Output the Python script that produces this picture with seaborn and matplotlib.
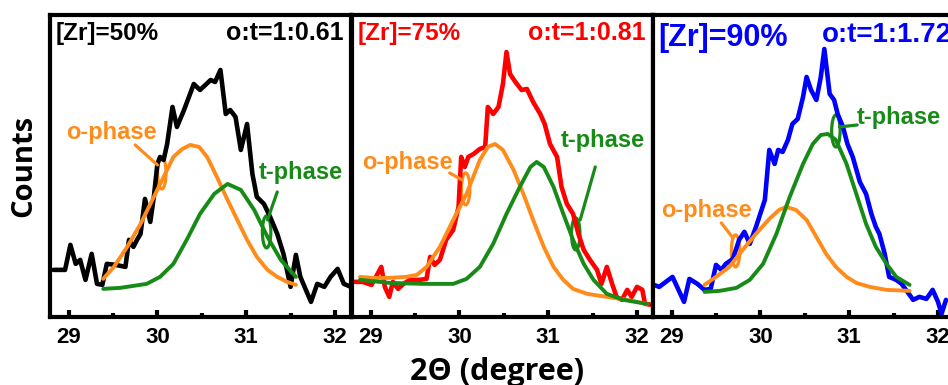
"""XRD peak deconvolution panels: o-phase / t-phase fits for three Zr contents."""
import matplotlib
matplotlib.use("Agg")
import matplotlib.pyplot as plt
from matplotlib.patches import Ellipse
import seaborn as sns

# ---- [Zr]=50% ----
theta_50 = [28.83, 28.96, 29.02, 29.08, 29.13, 29.19, 29.26, 29.32, 29.38, 29.43,
            29.53, 29.64, 29.68, 29.73, 29.77, 29.81, 29.86, 29.92, 29.96, 30.00,
            30.03, 30.07, 30.11, 30.17, 30.22, 30.30, 30.41, 30.48, 30.60, 30.65,
            30.71, 30.77, 30.82, 30.88, 30.94, 31.01, 31.07, 31.12, 31.20, 31.27,
            31.35, 31.42, 31.50, 31.56, 31.61, 31.73, 31.80, 31.88, 31.95, 32.03,
            32.10, 32.18]
counts_50 = [47, 47, 72, 53, 57, 37, 63, 33, 32, 53,
             52, 50, 77, 70, 77, 83, 118, 95, 120, 153,
             160, 157, 173, 210, 190, 207, 233, 227, 237, 235,
             247, 203, 207, 200, 167, 193, 143, 120, 113, 100,
             83, 63, 30, 62, 40, 15, 33, 30, 40, 48,
             33, 30]
theta_o_50 = [29.39, 29.51, 29.66, 29.81, 29.96, 30.07, 30.18, 30.28, 30.37, 30.47,
              30.56, 30.67, 30.79, 30.90, 31.01, 31.12, 31.24, 31.35, 31.46, 31.56]
counts_o_50 = [38, 50, 70, 93, 120, 140, 160, 168, 172, 170,
               160, 140, 117, 97, 77, 60, 47, 40, 35, 32]
theta_t_50 = [29.39, 29.58, 29.73, 29.88, 30.03, 30.18, 30.33, 30.48, 30.64, 30.79,
              30.94, 31.09, 31.24, 31.39, 31.56]
counts_t_50 = [28, 29, 31, 33, 40, 53, 77, 103, 123, 133,
               127, 107, 80, 57, 40]

# ---- [Zr]=75% ----
theta_75 = [28.82, 28.91, 29.01, 29.06, 29.12, 29.16, 29.21, 29.25, 29.31, 29.37,
            29.44, 29.50, 29.55, 29.63, 29.67, 29.72, 29.78, 29.85, 29.93, 29.99,
            30.02, 30.06, 30.10, 30.16, 30.23, 30.29, 30.32, 30.38, 30.44, 30.49,
            30.53, 30.57, 30.63, 30.70, 30.76, 30.83, 30.91, 30.96, 31.02, 31.10,
            31.15, 31.21, 31.28, 31.34, 31.40, 31.47, 31.55, 31.60, 31.66, 31.72,
            31.77, 31.83, 31.89, 31.94, 32.00, 32.06, 32.09, 32.17]
counts_75 = [35, 35, 32, 40, 50, 30, 20, 35, 28, 33,
             37, 37, 37, 38, 60, 52, 57, 77, 87, 110,
             160, 150, 160, 163, 168, 170, 210, 203, 210, 233,
             265, 243, 235, 227, 228, 215, 203, 193, 173, 160,
             130, 113, 103, 83, 67, 57, 47, 33, 50, 33,
             20, 17, 27, 20, 30, 27, 13, 12]
theta_o_75 = [28.88, 29.03, 29.21, 29.40, 29.52, 29.63, 29.78, 29.93, 30.08, 30.23,
              30.32, 30.40, 30.49, 30.61, 30.72, 30.83, 30.95, 31.06, 31.17, 31.28,
              31.44, 31.66, 31.89, 32.11]
counts_o_75 = [40, 39, 39, 40, 42, 50, 70, 97, 123, 157,
               170, 173, 167, 147, 123, 97, 70, 50, 37, 28,
               23, 20, 17, 13]
theta_t_75 = [28.88, 29.21, 29.59, 29.93, 30.08, 30.23, 30.38, 30.53, 30.68, 30.80,
              30.87, 30.95, 31.06, 31.17, 31.28, 31.40, 31.51, 31.66, 31.85, 32.11]
counts_t_75 = [37, 34, 33, 33, 38, 50, 73, 103, 130, 150,
               155, 150, 130, 103, 77, 53, 37, 23, 17, 13]

# ---- [Zr]=90% ----
theta_90 = [28.80, 28.86, 29.01, 29.14, 29.20, 29.29, 29.37, 29.44, 29.50, 29.56,
            29.61, 29.69, 29.76, 29.82, 29.88, 29.95, 30.05, 30.10, 30.16, 30.20,
            30.25, 30.31, 30.36, 30.42, 30.48, 30.52, 30.57, 30.63, 30.68, 30.72,
            30.78, 30.83, 30.87, 30.93, 30.98, 31.04, 31.12, 31.19, 31.25, 31.30,
            31.34, 31.40, 31.45, 31.53, 31.59, 31.64, 31.72, 31.79, 31.87, 31.94,
            32.00, 32.04, 32.09]
counts_90 = [32, 30, 40, 15, 38, 33, 27, 28, 52, 47,
             53, 58, 77, 85, 73, 90, 117, 167, 153, 167,
             165, 177, 193, 198, 220, 240, 227, 217, 240, 268,
             223, 217, 203, 190, 173, 160, 135, 123, 103, 90,
             83, 63, 40, 37, 33, 27, 17, 20, 18, 27,
             15, 3, 17]
theta_o_90 = [29.37, 29.50, 29.65, 29.80, 29.95, 30.10, 30.21, 30.29, 30.40, 30.52,
              30.63, 30.74, 30.85, 30.97, 31.08, 31.23, 31.42, 31.68]
counts_o_90 = [32, 40, 50, 67, 83, 98, 107, 110, 107, 97,
               80, 63, 50, 40, 34, 30, 27, 26]
theta_t_90 = [29.37, 29.54, 29.73, 29.88, 30.03, 30.18, 30.33, 30.48, 30.59, 30.68,
              30.76, 30.85, 30.97, 31.08, 31.19, 31.30, 31.42, 31.53, 31.68]
counts_t_90 = [25, 26, 29, 37, 53, 83, 120, 153, 173, 182,
               183, 177, 153, 123, 93, 70, 53, 40, 32]

zr_labels = ["[Zr]=50%", "[Zr]=75%", "[Zr]=90%"]
ratio_labels = ["o:t=1:0.61", "o:t=1:0.81", "o:t=1:1.72"]
data_colors = ["black", "#ff0000", "#0000ff"]
ORANGE = "#ff8c1a"
GREEN = "#178a17"

sns.set_style("ticks")
plt.rcParams['font.family'] = ['Liberation Sans', 'DejaVu Sans']
plt.rcParams['font.weight'] = 'bold'
plt.rcParams['text.color'] = 'black'

panels = [
    (theta_50, counts_50, theta_o_50, counts_o_50, theta_t_50, counts_t_50),
    (theta_75, counts_75, theta_o_75, counts_o_75, theta_t_75, counts_t_75),
    (theta_90, counts_90, theta_o_90, counts_o_90, theta_t_90, counts_t_90),
]

# annotation layout: (text x, text y, ha), leader line, ellipse centre
o_notes = [
    ((29.48, 184, 'center'), (29.75, 172, 30.00, 152), (30.05, 144)),
    ((29.41, 154, 'center'), (29.89, 144, 30.03, 137), (30.07, 128)),
    ((29.39, 106, 'center'), (29.56, 94, 29.69, 79), (29.72, 66)),
]
t_notes = [
    ((31.61, 144, 'center'), (31.35, 125, 31.24, 97), (31.23, 85)),
    ((31.62, 176, 'center'), (31.53, 150, 31.36, 97), (31.31, 83)),
    ((31.09, 199, 'left'), (30.89, 190, 31.09, 192), (30.85, 186)),
]

fig = plt.figure(figsize=(9.48, 3.85), dpi=100)
lefts = [0.0527, 0.3713, 0.6888]
zr_size = [17.5, 17.5, 22]
ratio_size = [18, 18, 20]

for i, (th, ct, tho, cto, tht, ctt) in enumerate(panels):
    ax = fig.add_axes([lefts[i], 0.177, 0.3175, 0.784])
    sns.lineplot(x=th, y=ct, ax=ax, color=data_colors[i], lw=3.3,
                 estimator=None, solid_joinstyle='round')
    sns.lineplot(x=tho, y=cto, ax=ax, color=ORANGE, lw=2.8,
                 estimator=None, solid_capstyle='round')
    sns.lineplot(x=tht, y=ctt, ax=ax, color=GREEN, lw=2.8,
                 estimator=None, solid_capstyle='round')

    ax.set_xlim(28.79, 32.18)
    ax.set_ylim(0, 302)
    ax.set_yticks([])
    ax.set_xticks([29, 30, 31, 32])
    ax.set_xticks([29.5, 30.5, 31.5], minor=True)
    ax.tick_params(axis='x', which='major', direction='in', length=5,
                   width=3, labelsize=16, pad=7, top=False,
                   color='black', labelcolor='black')
    ax.tick_params(axis='x', which='minor', direction='in', length=3,
                   width=3, top=False, color='black')
    for s in ax.spines.values():
        s.set_linewidth(3)
        s.set_color('black')
    ax.set_xlabel('')
    ax.set_ylabel('')

    if i < 2:
        ax.text(0.02, 0.94, zr_labels[i], transform=ax.transAxes,
                color=data_colors[i], fontsize=zr_size[i], fontweight='bold',
                ha='left', va='center')
        ax.text(0.975, 0.94, ratio_labels[i], transform=ax.transAxes,
                color=data_colors[i], fontsize=ratio_size[i], fontweight='bold',
                ha='right', va='center')
    else:
        ax.text(0.017, 0.925, zr_labels[i], transform=ax.transAxes,
                color=data_colors[i], fontsize=zr_size[i], fontweight='bold',
                ha='left', va='center')
        ax.text(0.56, 0.935, ratio_labels[i], transform=ax.transAxes,
                color=data_colors[i], fontsize=ratio_size[i], fontweight='bold',
                ha='left', va='center')

    for notes, label, col in [(o_notes[i], "o-phase", ORANGE),
                              (t_notes[i], "t-phase", GREEN)]:
        (tx, ty, ha), (x1, y1, x2, y2), (ex, ey) = notes
        ax.text(tx, ty, label, color=col, fontsize=17, fontweight='bold',
                ha=ha, va='center')
        ax.plot([x1, x2], [y1, y2], color=col, lw=2.3)
        ax.add_patch(Ellipse((ex, ey), 0.095, 32, fill=False, ec=col, lw=2.3))

fig.text(24 / 948, 0.569, "Counts", rotation=90, ha='center', va='center',
         fontsize=21, fontweight='bold', color='black',
         family=['Open Sans', 'DejaVu Sans'])
fig.text(0.524, 0.034, "2Θ (degree)", ha='center', va='center',
         fontsize=22, fontweight='bold', color='black',
         family=['Open Sans', 'DejaVu Sans'])

fig.savefig("out.png", dpi=100)
plt.close(fig)
